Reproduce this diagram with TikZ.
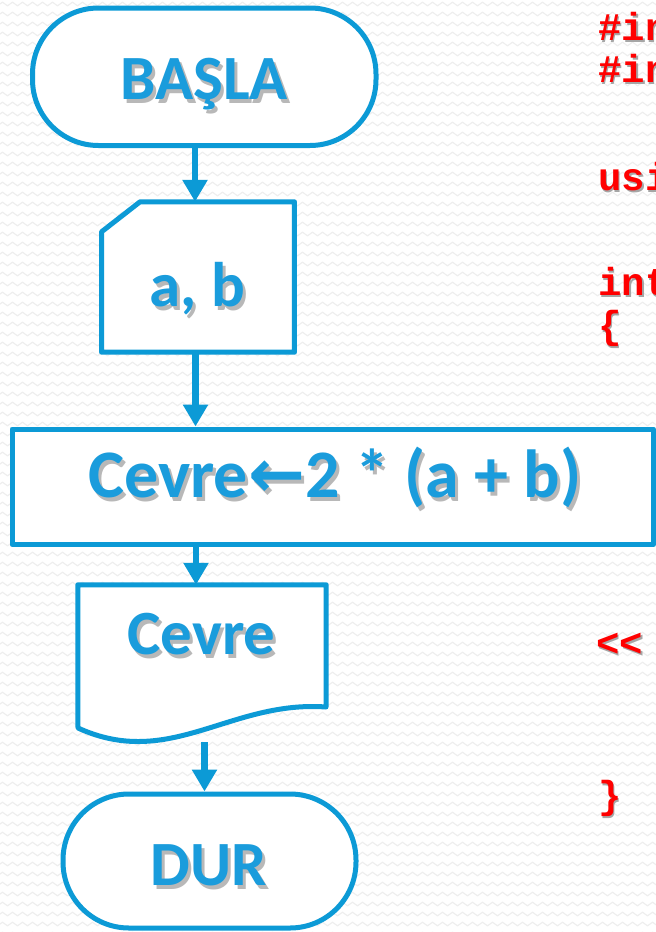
\documentclass[tikz,border=0pt]{standalone}
\usepackage{fontspec}
\setmainfont{Carlito}
\newfontfamily\codefont{Liberation Mono}
\newfontfamily\arrowfont{DejaVu Sans}
\usetikzlibrary{arrows.meta,decorations.pathmorphing,calc}

\definecolor{flowblue}{RGB}{12,154,214}
\definecolor{letterblue}{RGB}{26,156,220}
\definecolor{codered}{RGB}{255,0,0}
\definecolor{patterngray}{RGB}{238,238,238}

% one shifted, coloured copy of a text, taking no width
\newcommand\putcopy[4]{\rlap{\kern#1\raisebox{#2}{\textcolor{#3}{#4}}}}
% blue lettering over a grey drop shadow
\newcommand\shine[1]{\leavevmode
  \putcopy{3pt}{-4pt}{black!28}{#1}%
  \textcolor{letterblue}{#1}}
% red code with a soft shadow
\newcommand\codeline[1]{\leavevmode
  \putcopy{1.6pt}{-2.2pt}{black!35}{#1}%
  \textcolor{codered}{#1}}

\begin{document}
\begin{tikzpicture}[x=1pt,y=-1pt,
  shapeline/.style={draw=flowblue, line width=5pt, fill=white, line join=round},
  term/.style={shapeline, rectangle, rounded corners=66pt, inner sep=0pt},
  procbox/.style={shapeline, rectangle, inner sep=0pt},
  frame/.style={rectangle, inner sep=0pt, draw=none},
  flowarrow/.style={draw=flowblue, line width=6.5pt, -{Triangle[width=24pt,length=22pt]}},
  lbl/.style={anchor=base, inner sep=0pt, font=\bfseries\fontsize{63}{70}\selectfont},
  code/.style={anchor=base west, inner sep=0pt, font=\codefont\bfseries\fontsize{39}{44}\selectfont},
  patternline/.style={draw=patterngray, line width=1.1pt, decorate,
    decoration={zigzag, segment length=10pt, amplitude=1.8pt}}]

\useasboundingbox (0,0) rectangle (656,932);
\clip (0,0) rectangle (656,932);

% paper with a faint zigzag texture
\fill[white] (0,0) rectangle (656,932);
\foreach \r in {0,...,93}
  \draw[patternline] (-10,\r*10+4) -- (670,\r*10+4);

% flowchart shapes
\node[term, minimum width=343.5pt, minimum height=137.5pt] (start) at (204.25,76.75) {};
\node[frame, minimum width=192.5pt, minimum height=150pt] (card) at (198,277) {};
\draw[shapeline] ($(card.north west)+(0,30)$) -- ($(card.north west)+(38.5,0)$)
  -- (card.north east) -- (card.south east) -- (card.south west) -- cycle;
\node[procbox, minimum width=641.5pt, minimum height=115.5pt] (proc) at (332.75,486.75) {};
\node[frame, minimum width=248pt, minimum height=152pt] (outdoc) at (202,661) {};
\draw[shapeline] (outdoc.north west) -- (outdoc.north east) -- (326,707)
  .. controls (230,700) and (170,770) .. (78,728) -- cycle;
\node[term, minimum width=293pt, minimum height=134pt] (stop) at (209.5,861) {};

% connectors
\draw[flowarrow] ([xshift=-3pt]card.north |- start.south) -- ([xshift=-3pt]card.north);
\draw[flowarrow] ([xshift=-2.5pt]card.south) -- ([xshift=-2.5pt]card.south |- proc.north);
\draw[flowarrow] ([xshift=-6pt]outdoc.north |- proc.south) -- ([xshift=-6pt]outdoc.north);
\coordinate (docexit) at (204.5,742);
\draw[flowarrow] (docexit) -- (docexit |- stop.north);

% labels
\node[lbl] (tstart) at (204,99) {\shine{BAŞLA}};
\node[lbl] (tinput) at (197.5,306) {\shine{a, b}};
\node[lbl, font=\bfseries\fontsize{68}{76}\selectfont] (tproc) at (335,497)
  {\shine{Cevre{\arrowfont ←}2 * (a + b)}};
\node[lbl] (toutput) at (201.5,654) {\shine{Cevre}};
\node[lbl] (tstop) at (209,885) {\shine{DUR}};

% program text at the right edge
\node[code] (c1) at (598,40) {\codeline{\#in}};
\node[code] (c2) at (598,82) {\codeline{\#in}};
\node[code] (c3) at (598,190) {\codeline{usi}};
\node[code] (c4) at (598,295) {\codeline{int}};
\node[code] (c5) at (598,338) {\codeline{\{}};
\node[code] (c6) at (596,656) {\codeline{<<}};
\node[code] (c7) at (598,808) {\codeline{\}}};
\end{tikzpicture}
\end{document}
